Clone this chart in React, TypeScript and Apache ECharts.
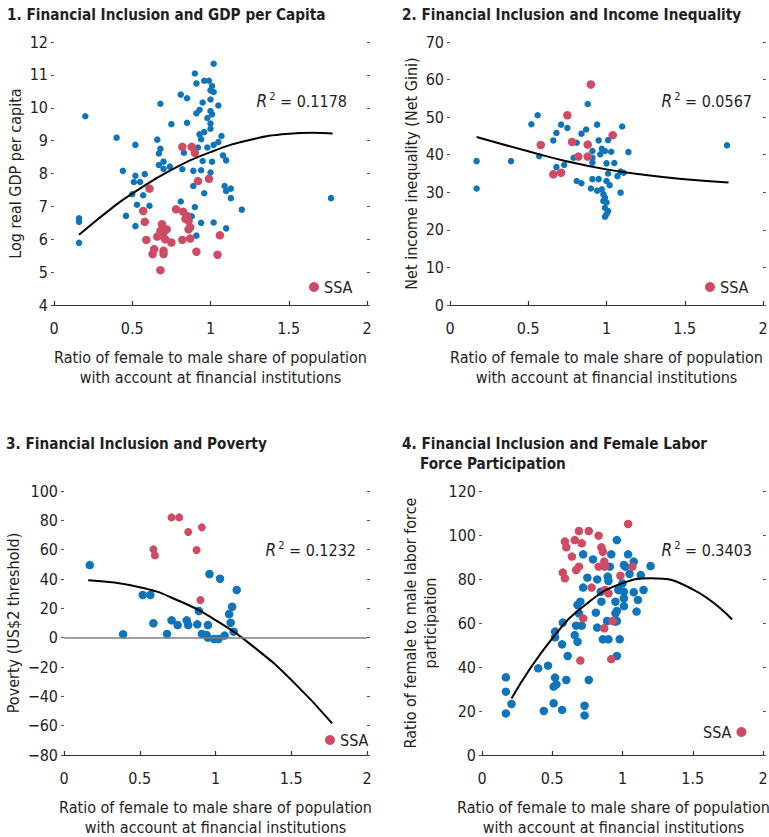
import React, { useEffect, useRef } from "react";
import * as echarts from "echarts";

const FONT = "'DejaVu Sans Condensed', 'Liberation Sans Narrow', sans-serif";
const BLUE = "#0E74BB";
const RED = "#CF4B63";
const TXT = "#231F20";
const FS = 16;

const titles = [
  "1. Financial Inclusion and GDP per Capita",
  "2. Financial Inclusion and Income Inequality",
  "3. Financial Inclusion and Poverty",
  "4. Financial Inclusion and Female Labor",
  "Force Participation",
];
const xAxisName = "Ratio of female to male share of population\nwith account at financial institutions";
const yNames = [
  "Log real GDP per capita",
  "Net income inequality (Net Gini)",
  "Poverty (US$2 threshold)",
  "Ratio of female to male labor force\nparticipation",
];
const r2Values = ["0.1178", "0.0567", "0.1232", "0.3403"];
const yRanges = [
  [4, 12, 1],
  [0, 70, 10],
  [-80, 100, 20],
  [0, 120, 20],
];

// Panel 1: log real GDP per capita
const p1Others = [[0.16,6.64],[0.16,6.53],[0.16,5.89],[0.20,9.74],[0.40,9.09],[0.44,8.08],[0.52,8.87],[0.52,7.93],[0.58,7.98],[0.51,7.74],[0.55,7.74],[0.50,7.37],[0.57,7.34],[0.53,7.05],[0.61,7.02],[0.46,6.71],[0.52,6.40],[0.68,10.12],[0.66,9.03],[0.68,8.75],[0.67,8.61],[0.70,8.36],[0.67,8.26],[0.70,8.14],[0.74,8.21],[0.75,9.50],[0.81,10.40],[0.85,10.29],[0.85,9.54],[0.83,8.63],[0.82,8.13],[0.81,7.15],[0.90,11.04],[0.91,10.74],[0.96,10.82],[0.99,10.82],[1.01,10.66],[1.00,10.53],[1.02,10.48],[1.02,11.34],[1.00,10.25],[1.05,10.07],[0.95,10.16],[0.93,9.94],[0.91,9.83],[1.00,9.90],[1.01,9.80],[0.98,9.69],[1.00,9.52],[1.00,9.36],[0.96,9.26],[0.93,9.19],[0.94,9.04],[1.07,9.14],[1.05,8.96],[1.02,8.87],[0.98,8.79],[0.92,8.79],[1.08,8.55],[1.10,8.40],[1.01,8.36],[0.95,8.38],[0.89,8.08],[0.94,8.10],[1.00,8.03],[1.09,7.62],[1.10,7.47],[1.13,7.54],[1.13,7.25],[0.89,7.62],[0.96,7.40],[0.90,6.98],[1.20,6.90],[0.94,6.50],[1.02,6.51],[1.10,6.33],[0.91,6.11],[0.88,6.70],[1.77,7.25]];
const p1SSA = [[0.61,7.54],[0.57,6.86],[0.58,6.53],[0.59,5.98],[0.64,5.70],[0.63,5.55],[0.68,5.06],[0.70,5.65],[0.70,5.55],[0.69,6.46],[0.70,6.20],[0.66,6.08],[0.71,6.00],[0.72,6.30],[0.75,5.90],[0.78,6.91],[0.825,6.84],[0.85,6.71],[0.86,6.56],[0.87,6.36],[0.86,6.30],[0.82,5.98],[0.87,6.02],[0.91,5.62],[1.06,6.12],[1.045,5.53],[0.82,8.81],[0.88,8.81],[0.90,8.63],[0.92,7.77],[0.99,7.84],[0.68,6.25],[0.84,6.62]];
const p1Fit = [[0.16,6.14],[0.4,7.06],[0.5,7.39],[0.75,8.11],[1.0,8.65],[1.25,9.02],[1.5,9.21],[1.65,9.24],[1.78,9.22]];

// Panel 2: net Gini
const p2Others = [[0.17,38.3],[0.17,31.0],[0.39,38.3],[0.52,48.1],[0.56,50.5],[0.57,39.6],[0.66,43.8],[0.68,45.8],[0.71,48.0],[0.75,47.1],[0.68,36.7],[0.73,37.3],[0.79,39.2],[0.81,43.2],[0.84,45.6],[0.87,46.7],[0.88,53.5],[0.81,33.0],[0.84,32.4],[0.90,31.0],[0.91,33.5],[0.91,41.0],[0.91,39.2],[0.91,37.9],[0.94,48.0],[0.95,43.8],[0.95,33.5],[0.94,30.4],[0.96,40.1],[0.97,41.6],[0.99,41.0],[1.00,37.7],[1.01,43.9],[1.03,40.8],[1.01,35.0],[1.00,33.0],[1.02,31.9],[0.97,30.8],[0.98,29.5],[0.99,28.6],[0.98,27.7],[1.00,27.3],[0.99,25.9],[1.01,25.0],[1.00,24.2],[0.99,23.5],[1.05,37.8],[1.07,34.3],[1.09,35.5],[1.11,35.2],[1.09,29.9],[1.10,47.5],[1.14,40.7],[1.77,42.5]];
const p2SSA = [[0.58,42.6],[0.66,34.8],[0.71,35.2],[0.75,50.5],[0.78,43.4],[0.82,39.5],[0.88,39.5],[0.88,42.7],[0.90,58.7],[1.04,45.2]];
const p2Fit = [[0.17,44.7],[0.5,40.9],[0.75,38.2],[1.0,36.1],[1.25,34.6],[1.5,33.5],[1.78,32.6]];

// Panel 3: poverty
const p3Others = [[0.17,49.5],[0.39,2.3],[0.52,29.1],[0.57,29.1],[0.59,9.8],[0.68,2.5],[0.71,11.8],[0.75,8.6],[0.81,11.8],[0.82,8.6],[0.88,9.1],[0.89,18.2],[0.95,8.6],[0.96,43.4],[1.03,40.2],[0.91,2.5],[0.94,1.8],[0.95,0],[0.99,-0.9],[1.02,-0.9],[1.06,1.4],[1.12,4.1],[1.10,10.2],[1.09,16.1],[1.11,21.1],[1.14,32.5]];
const p3SSA = [[0.71,82],[0.76,82],[0.82,72],[0.91,75.2],[0.875,59.8],[0.59,60.2],[0.60,56.1],[0.90,25.7]];
const p3Fit = [[0.16,39.1],[0.5,34.4],[0.75,25.5],[1.0,12],[1.25,-6.1],[1.5,-28.8],[1.77,-58.4]];

// Panel 4: female labor force participation
const p4Others = [[0.17,35.3],[0.17,28.8],[0.17,18.9],[0.21,23.2],[0.40,39.4],[0.47,40.6],[0.44,20.0],[0.52,35.2],[0.51,31.1],[0.53,32.1],[0.51,23.5],[0.57,20.5],[0.60,34.1],[0.52,56.1],[0.52,53.5],[0.57,50.3],[0.575,60.2],[0.61,45.0],[0.66,54.5],[0.68,51.5],[0.67,58.8],[0.71,58.8],[0.69,64.4],[0.68,68.2],[0.70,69.7],[0.72,76.1],[0.72,91.2],[0.75,80.6],[0.76,34.1],[0.73,22.4],[0.73,18.0],[0.79,88.9],[0.82,79.8],[0.81,64.7],[0.82,57.9],[0.845,74.2],[0.85,69.7],[0.86,52.6],[0.90,52.6],[0.895,81.1],[0.90,79.1],[0.91,85.6],[0.92,91.2],[0.95,69.7],[0.95,64.4],[0.95,60.6],[0.96,65.5],[0.96,97.7],[0.96,45.0],[0.96,60.9],[0.98,52.6],[0.97,75.0],[1.00,78.0],[1.01,86.4],[1.01,74.2],[1.01,71.2],[1.01,67.7],[1.02,85.6],[1.04,91.2],[1.05,82.3],[1.08,87.9],[1.08,74.0],[1.11,70.5],[1.10,65.2],[1.13,81.8],[1.15,75.0],[1.20,85.9],[0.89,60.9]];
const p4SSA = [[0.59,97.0],[0.60,94.4],[0.575,82.9],[0.59,80.3],[0.64,90.2],[0.66,97.7],[0.69,101.8],[0.71,96.2],[0.76,101.8],[0.67,84.1],[0.69,85.6],[0.83,99.7],[0.85,94.4],[0.86,92.4],[0.83,85.6],[0.87,87.9],[0.875,85.6],[0.78,76.1],[0.875,75.0],[0.90,73.5],[0.985,81.5],[0.72,62.1],[0.87,57.6],[0.93,60.9],[0.70,42.9],[0.92,43.6],[1.04,105.0],[1.07,85.6]];
const p4Fit = [[0.21,25.7],[0.5,53.0],[0.75,69.0],[1.0,78.1],[1.2,80.3],[1.5,75.3],[1.78,61.6]];

const others = [p1Others, p2Others, p3Others, p4Others];
const ssa = [p1SSA, p2SSA, p3SSA, p4SSA];
const fits = [p1Fit, p2Fit, p3Fit, p4Fit];

const grids = [
  { left: 54, top: 42, width: 313, height: 263 },
  { left: 450, top: 42, width: 313, height: 263 },
  { left: 64, top: 491, width: 303, height: 264 },
  { left: 482, top: 491, width: 281, height: 264 },
];
const yNameGaps = [29, 28, 38, 42];
const xNameShift = [0, 0, 0, 18];
const blueSizes = [6.5, 6.5, 8.5, 8.5];
const redSizes = [8.5, 8.5, 8, 8.5];
const r2Pos = [
  [347, 101],
  [752, 101],
  [356, 550],
  [752, 550],
];
const legendPos = [
  { left: 309, top: 279, align: "left" },
  { left: 705, top: 279, align: "left" },
  { left: 325, top: 732, align: "left" },
  { left: 703, top: 724, align: "right" },
];

const fmt = (v: number) => (v < 0 ? "\u2212" + Math.abs(v) : String(v));

export default function App() {
  const ref = useRef<HTMLDivElement>(null);
  useEffect(() => {
    if (!ref.current) return;
    const chart = echarts.init(ref.current, undefined, { renderer: "svg" });

    const xAxis = grids.map((_, i) => ({
      type: "value",
      gridIndex: i,
      min: 0,
      max: 2,
      interval: 0.5,
      name: xAxisName,
      nameLocation: "middle",
      nameGap: 42,
      nameTextStyle: {
        fontFamily: FONT,
        fontSize: FS,
        color: TXT,
        lineHeight: 20,
        padding: [0, xNameShift[i], 0, 0],
      },
      axisLine: { show: true, onZero: false, lineStyle: { color: "#333", width: 1.2 } },
      axisTick: { show: true, inside: true, length: 4, lineStyle: { color: "#333", width: 1.2 } },
      axisLabel: { fontFamily: FONT, fontSize: FS, color: TXT, margin: 15, formatter: fmt },
      splitLine: { show: false },
    }));

    const yAxis: any[] = [];
    grids.forEach((_, i) => {
      const [mn, mx, iv] = yRanges[i];
      yAxis.push({
        type: "value",
        gridIndex: i,
        position: "left",
        min: mn,
        max: mx,
        interval: iv,
        name: yNames[i],
        nameLocation: "middle",
        nameGap: yNameGaps[i],
        nameTextStyle: { fontFamily: FONT, fontSize: FS, color: TXT, lineHeight: 20 },
        axisLine: { show: false },
        axisTick: { show: true, length: 3, lineStyle: { color: "#555" } },
        axisLabel: { fontFamily: FONT, fontSize: FS, color: TXT, margin: 6, formatter: fmt },
        splitLine: { show: false },
      });
      yAxis.push({
        type: "value",
        gridIndex: i,
        position: "right",
        min: mn,
        max: mx,
        interval: iv,
        axisLine: { show: false },
        axisTick: { show: true, length: 3, lineStyle: { color: "#555" } },
        axisLabel: { show: false },
        splitLine: { show: false },
      });
    });

    const series: any[] = [];
    // zero reference line in panel 3
    series.push({
      type: "line",
      xAxisIndex: 2,
      yAxisIndex: 4,
      data: [],
      silent: true,
      markLine: {
        silent: true,
        symbol: ["none", "none"],
        label: { show: false },
        lineStyle: { color: "#808080", width: 1.5, type: "solid" },
        data: [{ yAxis: 0 }],
      },
    });
    grids.forEach((_, i) => {
      series.push({
        name: "Others",
        type: "scatter",
        xAxisIndex: i,
        yAxisIndex: i * 2,
        data: others[i],
        symbolSize: blueSizes[i],
        itemStyle: { color: BLUE, opacity: 1 },
        silent: true,
      });
      series.push({
        name: "SSA",
        type: "scatter",
        xAxisIndex: i,
        yAxisIndex: i * 2,
        data: ssa[i],
        symbolSize: redSizes[i],
        itemStyle: { color: RED, opacity: 1 },
        silent: true,
      });
      series.push({
        name: "Fit",
        type: "line",
        xAxisIndex: i,
        yAxisIndex: i * 2,
        data: fits[i],
        smooth: true,
        showSymbol: false,
        symbol: "none",
        lineStyle: { color: "#000", width: 2 },
        silent: true,
      });
    });

    const legend = legendPos.map((p) => ({
      data: [{ name: "SSA", icon: "circle" }],
      left: p.left,
      top: p.top,
      align: p.align,
      padding: 0,
      itemWidth: 10,
      itemHeight: 10,
      selectedMode: false,
      textStyle: { fontFamily: FONT, fontSize: FS, color: TXT, padding: [0, 0, 0, 0] },
    }));

    const tfont = `bold 15.2px ${FONT}`;
    const graphic: any[] = [
      { type: "text", x: 7, y: 15, style: { text: titles[0], font: tfont, fill: TXT, textVerticalAlign: "middle" } },
      { type: "text", x: 402, y: 15, style: { text: titles[1], font: tfont, fill: TXT, textVerticalAlign: "middle" } },
      { type: "text", x: 6, y: 443.5, style: { text: titles[2], font: tfont, fill: TXT, textVerticalAlign: "middle" } },
      { type: "text", x: 402, y: 443.5, style: { text: titles[3], font: tfont, fill: TXT, textVerticalAlign: "middle" } },
      { type: "text", x: 420, y: 463.5, style: { text: titles[4], font: tfont, fill: TXT, textVerticalAlign: "middle" } },
    ];
    r2Pos.forEach(([x, y], i) => {
      graphic.push({
        type: "text",
        x,
        y,
        style: {
          text: `{r|R}{s|2}{n| = ${r2Values[i]}}`,
          align: "right",
          verticalAlign: "middle",
          fill: TXT,
          rich: {
            r: { fontFamily: FONT, fontSize: 17, fontStyle: "italic", fill: TXT, lineHeight: 20 },
            s: { fontFamily: FONT, fontSize: 11, fill: TXT, verticalAlign: "top", lineHeight: 12, padding: [0, 0, 0, 2] },
            n: { fontFamily: FONT, fontSize: FS, fill: TXT, lineHeight: 20 },
          },
        },
      });
    });

    chart.setOption({
      animation: false,
      backgroundColor: "#fff",
      textStyle: { fontFamily: FONT },
      grid: grids.map((g) => ({ ...g, containLabel: false, outerBoundsMode: "none" })),
      xAxis,
      yAxis,
      legend,
      series,
      graphic,
    });
    return () => chart.dispose();
  }, []);

  return (
    <div
      ref={ref}
      style={{ position: "absolute", left: 0, top: 0, width: 769, height: 837 }}
    />
  );
}
